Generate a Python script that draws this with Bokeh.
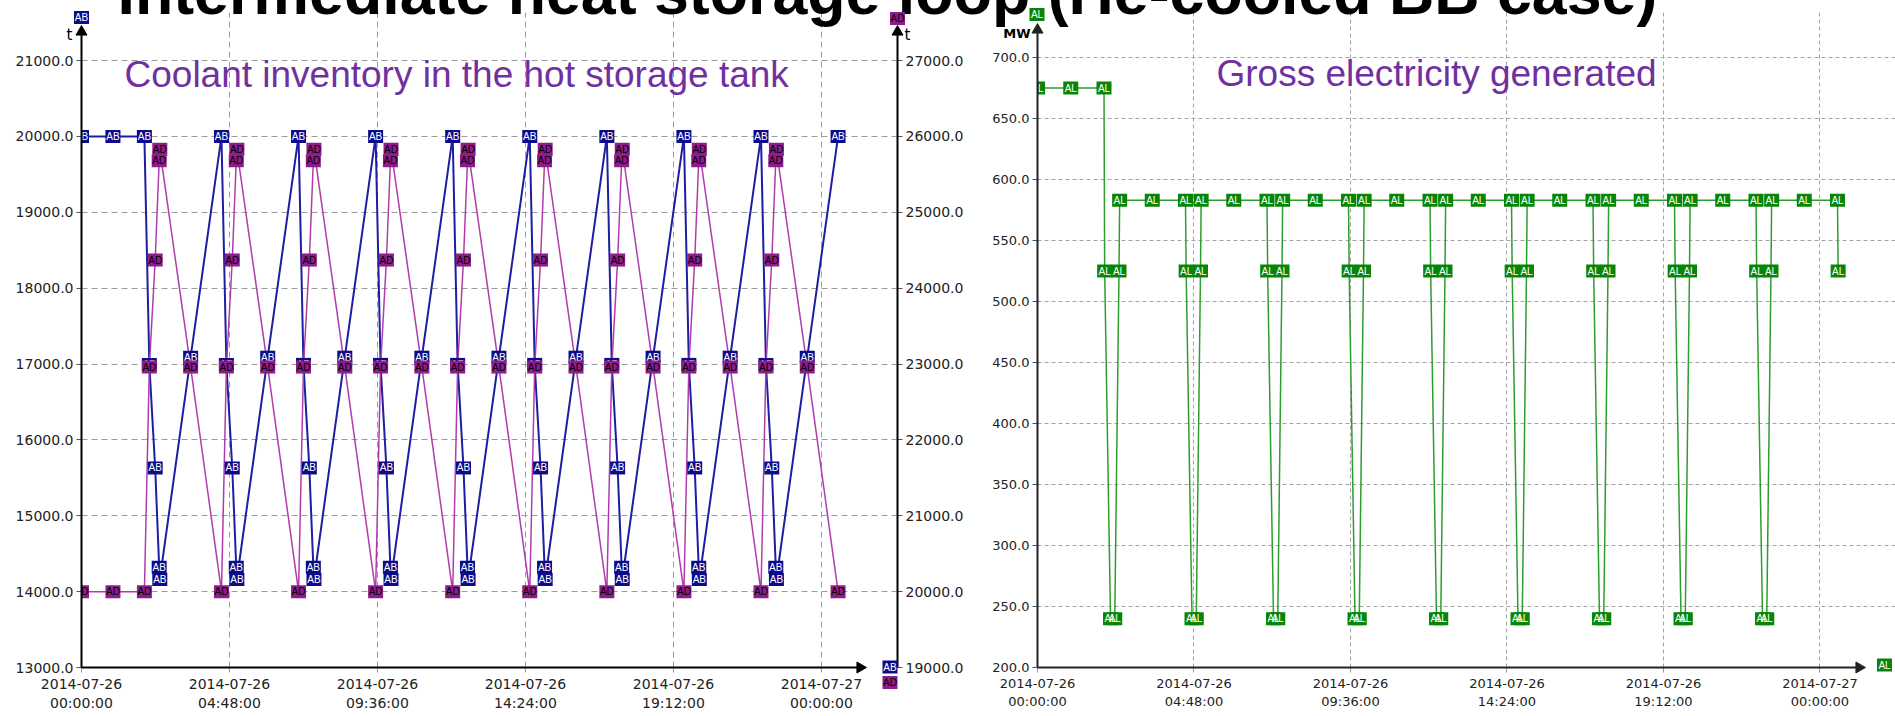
from bokeh.plotting import figure
from bokeh.models import Range1d, LinearAxis, ColumnDataSource, PrintfTickFormatter
from bokeh.layouts import row
from bokeh.core.properties import value
from bokeh.embed import file_html
from bokeh.resources import INLINE
import math

# ---------------- data (hours since 2014-07-26 00:00) ----------------
ab_t = [0.00, 1.02, 2.04,
        2.20, 2.39, 2.52, 2.54, 3.54, 4.54,
        4.70, 4.89, 5.02, 5.04, 6.04, 7.04,
        7.20, 7.39, 7.52, 7.54, 8.54, 9.54,
        9.70, 9.89, 10.02, 10.04, 11.04, 12.04,
        12.20, 12.39, 12.52, 12.54, 13.54, 14.54,
        14.70, 14.89, 15.02, 15.04, 16.04, 17.04,
        17.20, 17.39, 17.52, 17.54, 18.54, 19.54,
        19.70, 19.89, 20.02, 20.04, 21.04, 22.04,
        22.20, 22.39, 22.52, 22.54, 23.54, 24.54]
ab_v = [20000, 20000, 20000,
        16995, 15630, 14320, 14160, 17090, 20000,
        16995, 15630, 14320, 14160, 17090, 20000,
        16995, 15630, 14320, 14160, 17090, 20000,
        16995, 15630, 14320, 14160, 17090, 20000,
        16995, 15630, 14320, 14160, 17090, 20000,
        16995, 15630, 14320, 14160, 17090, 20000,
        16995, 15630, 14320, 14160, 17090, 20000,
        16995, 15630, 14320, 14160, 17090, 20000,
        16995, 15630, 14320, 14160, 17090, 20000]
ad_t = list(ab_t)
ad_v = [20000, 20000, 20000,
        22960, 24370, 25680, 25830, 22960, 20000,
        22960, 24370, 25680, 25830, 22960, 20000,
        22960, 24370, 25680, 25830, 22960, 20000,
        22960, 24370, 25680, 25830, 22960, 20000,
        22960, 24370, 25680, 25830, 22960, 20000,
        22960, 24370, 25680, 25830, 22960, 20000,
        22960, 24370, 25680, 25830, 22960, 20000,
        22960, 24370, 25680, 25830, 22960, 20000,
        22960, 24370, 25680, 25830, 22960, 20000]
al_t = [0.00, 1.02, 2.04,
        2.06, 2.24, 2.37, 2.50, 2.52, 3.52, 4.54,
        4.56, 4.74, 4.87, 5.00, 5.02, 6.02, 7.04,
        7.06, 7.24, 7.37, 7.50, 7.52, 8.52, 9.54,
        9.56, 9.74, 9.87, 10.00, 10.02, 11.02, 12.04,
        12.06, 12.24, 12.37, 12.50, 12.52, 13.52, 14.54,
        14.56, 14.74, 14.87, 15.00, 15.02, 16.02, 17.04,
        17.06, 17.24, 17.37, 17.50, 17.52, 18.52, 19.54,
        19.56, 19.74, 19.87, 20.00, 20.02, 21.02, 22.04,
        22.06, 22.24, 22.37, 22.50, 22.52, 23.52, 24.54,
        24.56]
al_v = [675, 675, 675,
        525, 240, 240, 525, 583, 583, 583,
        525, 240, 240, 525, 583, 583, 583,
        525, 240, 240, 525, 583, 583, 583,
        525, 240, 240, 525, 583, 583, 583,
        525, 240, 240, 525, 583, 583, 583,
        525, 240, 240, 525, 583, 583, 583,
        525, 240, 240, 525, 583, 583, 583,
        525, 240, 240, 525, 583, 583, 583,
        525, 240, 240, 525, 583, 583, 583,
        525]

x_ticks = [0, 4.8, 9.6, 14.4, 19.2, 24]
x_tick_labels = ["2014-07-26\n00:00:00", "2014-07-26\n04:48:00", "2014-07-26\n09:36:00",
                 "2014-07-26\n14:24:00", "2014-07-26\n19:12:00", "2014-07-27\n00:00:00"]
left_ticks = [13000, 14000, 15000, 16000, 17000, 18000, 19000, 20000, 21000]
right_ticks = [19000, 20000, 21000, 22000, 23000, 24000, 25000, 26000, 27000]
mw_ticks = [200, 250, 300, 350, 400, 450, 500, 550, 600, 650, 700]

title_left = "Intermediate heat storage loop"
title_right = "loop (He-cooled BB case)"
sub_left = "Coolant inventory in the hot storage tank"
sub_right = "Gross electricity generated"

# ---------------- styles / geometry (page pixels) ----------------
AB_BOX, AB_LINE = "#0c0c8a", "#1e1ea0"
AD_BOX, AD_LINE = "#8e1c8a", "#b03cab"
AL_BOX, AL_LINE = "#078507", "#2e9d2e"
PURPLE = "#7030a0"
H = 716
SPLIT = 985
LW, RW = SPLIT, 1895 - SPLIT
TOP, BOT = 12, 49
Y0 = H - BOT                      # page y of the x axis
BASE_FIX = 0.37                   # baseline correction (em)

L_AX, L_R, L_PXH, L_PPU = 81.0, 897.0, 30.83, 0.07587
R_AX, R_PXH, R_PPU = 1037.0, 32.6, 1.22


def lx(px): return (px - L_AX) / L_PXH
def ly(py): return 13000 + (Y0 - py) / L_PPU
def lyr(py): return 19000 + (Y0 - py) / L_PPU
def rx(px): return (px - R_AX) / R_PXH
def ry(py): return 200 + (Y0 - py) / R_PPU


def style_axis(ax, size):
    ax.axis_line_color = None
    ax.major_tick_line_color = "#555555"
    ax.major_tick_out = 5
    ax.major_tick_in = 0
    ax.minor_tick_line_color = None
    ax.major_label_text_font = "DejaVu Sans"
    ax.major_label_text_font_size = size
    ax.major_label_text_color = "#222222"


def txt(p, x, y, s, size, color="black", font="Liberation Sans", style="normal",
        align="left", baseline="alphabetic"):
    p.text(x=[x], y=[y], text=[s], level="overlay", text_font=value(font),
           text_font_size=size, text_font_style=style, text_color=color,
           text_align=align, text_baseline=baseline)


def tag(p, x, y, s, fill, tcolor):
    p.rect(x=[x], y=[y], width=15, height=13, width_units="screen", height_units="screen",
           fill_color=fill, line_color=None, level="overlay")
    txt(p, x, y, s, "10px", color=tcolor, align="center", baseline="middle")


def axis_arrow(p, x0, y0, x1, y1, hx, hy, angle, color):
    p.segment(x0=[x0], y0=[y0], x1=[x1], y1=[y1], line_color=color, line_width=2,
              level="overlay")
    p.scatter(x=[hx], y=[hy], marker="triangle", size=11, angle=angle,
              fill_color=color, line_color=color, level="overlay")


# ================= left figure =================
p1 = figure(width=LW, height=H, output_backend="svg", toolbar_location=None,
            x_range=Range1d(lx(L_AX), lx(L_R)), y_range=Range1d(ly(Y0), ly(TOP)),
            min_border_left=int(L_AX), min_border_right=int(LW - L_R),
            min_border_top=TOP, min_border_bottom=BOT,
            outline_line_color=None, border_fill_color="white")
p1.extra_y_ranges = {"right": Range1d(lyr(Y0), lyr(TOP))}
p1.add_layout(LinearAxis(y_range_name="right"), "right")

for ax in p1.yaxis:
    style_axis(ax, "14px")
    ax.formatter = PrintfTickFormatter(format="%.1f")
    ax.major_label_standoff = 3
p1.yaxis[0].ticker = left_ticks
p1.yaxis[1].ticker = right_ticks
xa = p1.xaxis[0]
style_axis(xa, "14px")
xa.ticker = x_ticks
xa.major_label_overrides = dict(zip(x_ticks, x_tick_labels))
xa.major_label_text_line_height = 1.23
xa.major_label_standoff = 3
xa.major_tick_line_color = "#999999"

p1.xgrid.ticker = x_ticks
p1.ygrid.ticker = left_ticks
for g in (p1.xgrid[0], p1.ygrid[0]):
    g.grid_line_color = "#9c9c9c"
    g.grid_line_dash = "6 4"
    g.grid_line_width = 1

src_ab = ColumnDataSource(dict(t=ab_t, v=ab_v, lab=["AB"] * len(ab_t)))
src_ad = ColumnDataSource(dict(t=ad_t, v=ad_v, lab=["AD"] * len(ad_t)))
p1.line("t", "v", source=src_ab, line_color=AB_LINE, line_width=2)
p1.line("t", "v", source=src_ad, line_color=AD_LINE, line_width=1.5, y_range_name="right")
p1.rect("t", "v", width=15, height=13, width_units="screen", height_units="screen",
        fill_color=AB_BOX, line_color=None, source=src_ab)
p1.text("t", "v", text="lab", source=src_ab, text_align="center", text_baseline="middle",
        text_font=value("Liberation Sans"), text_font_size="10px", text_color="white")
p1.rect("t", "v", width=15, height=13, width_units="screen", height_units="screen",
        fill_color=AD_BOX, line_color=None, source=src_ad, y_range_name="right")
p1.text("t", "v", text="lab", source=src_ad, text_align="center", text_baseline="middle",
        text_font=value("Liberation Sans"), text_font_size="10px", text_color="black",
        y_range_name="right")

# axes drawn as arrows
axis_arrow(p1, 0, ly(Y0), 0, ly(34), 0, ly(31.4), 0, "black")
axis_arrow(p1, lx(L_R), ly(Y0), lx(L_R), ly(34), lx(L_R), ly(31.4), 0, "black")
axis_arrow(p1, 0, ly(Y0), lx(858), ly(Y0), lx(859.6), ly(Y0), -math.pi / 2, "black")

txt(p1, lx(117), ly(15 - BASE_FIX * 62.7), title_left, "62.7px", style="bold")
txt(p1, lx(124), ly(88 - BASE_FIX * 37), sub_left, "37px", color=PURPLE)
txt(p1, lx(69), ly(34), "t", "15px", font="DejaVu Sans", align="center", baseline="middle")
txt(p1, lx(907), ly(34), "t", "15px", font="DejaVu Sans", align="center", baseline="middle")
tag(p1, lx(81), ly(17), "AB", AB_BOX, "white")
tag(p1, lx(897), ly(18), "AD", AD_BOX, "black")
tag(p1, lx(889.5), ly(666.5), "AB", AB_BOX, "white")
tag(p1, lx(889.5), ly(682), "AD", AD_BOX, "black")

# ================= right figure =================
p2 = figure(width=RW, height=H, output_backend="svg", toolbar_location=None,
            x_range=Range1d(rx(R_AX), rx(1895)), y_range=Range1d(ry(Y0), ry(TOP)),
            min_border_left=int(R_AX - SPLIT), min_border_right=0,
            min_border_top=TOP, min_border_bottom=BOT,
            outline_line_color=None, border_fill_color="white")
ya = p2.yaxis[0]
style_axis(ya, "13px")
ya.ticker = mw_ticks
ya.formatter = PrintfTickFormatter(format="%.1f")
ya.major_label_standoff = 3
xb = p2.xaxis[0]
style_axis(xb, "13px")
xb.ticker = x_ticks
xb.major_label_overrides = dict(zip(x_ticks, x_tick_labels))
xb.major_label_text_line_height = 1.25
xb.major_label_standoff = 3
xb.major_tick_line_color = "#999999"

p2.xgrid.ticker = x_ticks
p2.ygrid.ticker = mw_ticks
for g in (p2.xgrid[0], p2.ygrid[0]):
    g.grid_line_color = "#a4a4a4"
    g.grid_line_dash = "4 3"
    g.grid_line_width = 1

src_al = ColumnDataSource(dict(t=al_t, v=al_v, lab=["AL"] * len(al_t)))
p2.line("t", "v", source=src_al, line_color=AL_LINE, line_width=1.5)
p2.rect("t", "v", width=15, height=13, width_units="screen", height_units="screen",
        fill_color=AL_BOX, line_color=None, source=src_al)
p2.text("t", "v", text="lab", source=src_al, text_align="center", text_baseline="middle",
        text_font=value("Liberation Sans"), text_font_size="10px", text_color="white")

axis_arrow(p2, 0, ry(Y0), 0, ry(32), 0, ry(29.4), 0, "#222222")
axis_arrow(p2, 0, ry(Y0), rx(1857), ry(Y0), rx(1858.6), ry(Y0), -math.pi / 2, "#222222")

txt(p2, rx(117 + 12.448 * 62.7), ry(15 - BASE_FIX * 62.7), title_right, "62.7px", style="bold")
txt(p2, rx(1216), ry(87 - BASE_FIX * 37), sub_right, "37px", color=PURPLE)
txt(p2, rx(1030), ry(33), "MW", "13px", font="DejaVu Sans", style="bold",
    align="right", baseline="middle")
tag(p2, rx(1036.5), ry(14), "AL", AL_BOX, "white")
tag(p2, rx(1884), ry(664.5), "AL", AL_BOX, "white")

layout = row(p1, p2, spacing=0)
open("out.html", "w").write(file_html(layout, INLINE))
